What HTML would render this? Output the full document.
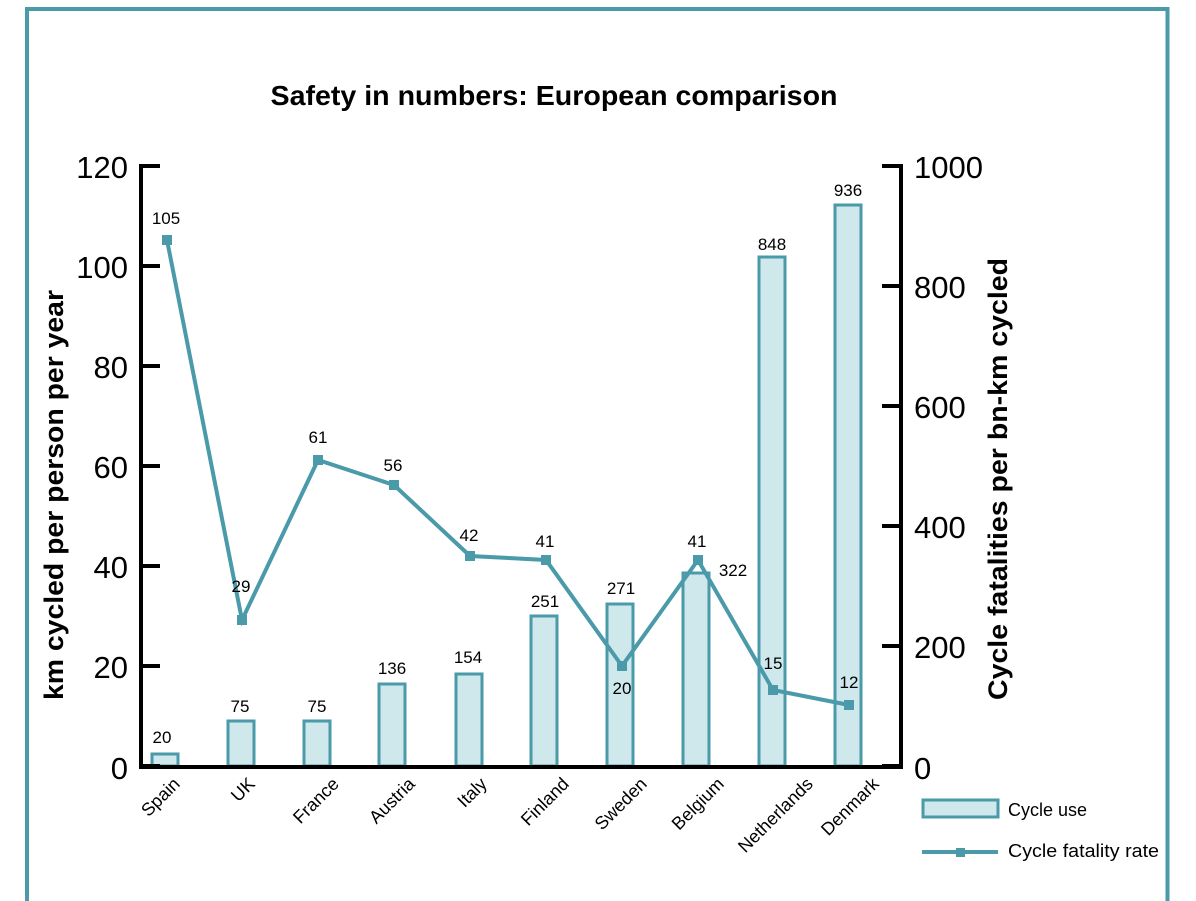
<!DOCTYPE html>
<html><head><meta charset="utf-8"><style>
html,body{margin:0;padding:0;background:#fff;}
svg{display:block;font-family:"Liberation Sans","DejaVu Sans",sans-serif;}
</style></head><body>
<svg width="1196" height="901" viewBox="0 0 1196 901" xmlns="http://www.w3.org/2000/svg">
<rect x="27" y="9" width="1140.5" height="900" fill="none" stroke="#4a9aaa" stroke-width="4"/>
<text x="554" y="105" text-anchor="middle" font-size="28" font-weight="bold" textLength="567" lengthAdjust="spacingAndGlyphs">Safety in numbers: European comparison</text>
<g fill="#cfe8ec" stroke="#4a9aaa" stroke-width="3">
<rect x="152" y="754" width="26" height="12"/>
<rect x="228" y="721" width="26" height="45"/>
<rect x="304" y="721" width="26" height="45"/>
<rect x="379" y="684" width="26" height="82"/>
<rect x="456" y="674" width="26" height="92"/>
<rect x="531" y="616" width="26" height="150"/>
<rect x="607" y="604" width="26" height="162"/>
<rect x="683" y="573" width="26" height="193"/>
<rect x="759" y="257" width="26" height="509"/>
<rect x="835" y="205" width="26" height="561"/>
</g>
<g stroke="#000" stroke-width="4" fill="none">
<path d="M160 166 H141 V767 H901 V166 H882"/>
<path d="M141 266h19M141 366h19M141 466h19M141 566h19M141 666h19M141 766h19"/>
<path d="M901 286h-19M901 406h-19M901 526h-19M901 646h-19M901 766h-19"/>
</g>
<g font-size="31" text-anchor="end">
<text x="128" y="178">120</text><text x="128" y="278">100</text><text x="128" y="378">80</text>
<text x="128" y="478">60</text><text x="128" y="578">40</text><text x="128" y="678">20</text><text x="128" y="779">0</text>
</g>
<g font-size="31">
<text x="914" y="178">1000</text><text x="914" y="298">800</text><text x="914" y="418">600</text>
<text x="914" y="538">400</text><text x="914" y="658">200</text><text x="914" y="779">0</text>
</g>
<text transform="translate(63,495) rotate(-90)" text-anchor="middle" font-size="27" font-weight="bold" textLength="410" lengthAdjust="spacingAndGlyphs">km cycled per person per year</text>
<text transform="translate(1007,479) rotate(-90)" text-anchor="middle" font-size="27" font-weight="bold" textLength="442" lengthAdjust="spacingAndGlyphs">Cycle fatalities per bn-km cycled</text>
<polyline points="167,240 242,620 318,460 394,485 470,556 546,560 622,666 698,560 773,690 849,705" fill="none" stroke="#4a9aaa" stroke-width="4"/>
<g fill="#4a9aaa">
<rect x="162" y="235" width="10" height="10"/><rect x="237" y="615" width="10" height="10"/><rect x="313" y="455" width="10" height="10"/>
<rect x="389" y="480" width="10" height="10"/><rect x="465" y="551" width="10" height="10"/><rect x="541" y="555" width="10" height="10"/>
<rect x="617" y="661" width="10" height="10"/><rect x="693" y="555" width="10" height="10"/><rect x="768" y="685" width="10" height="10"/>
<rect x="844" y="700" width="10" height="10"/>
</g>
<g font-size="17" text-anchor="middle">
<text x="162" y="743">20</text><text x="240" y="712">75</text><text x="317" y="712">75</text>
<text x="392" y="674">136</text><text x="468" y="663">154</text><text x="545" y="607">251</text>
<text x="621" y="594">271</text><text x="733" y="576">322</text><text x="772" y="250">848</text><text x="848" y="196">936</text>
<text x="166" y="224">105</text><text x="241" y="592">29</text><text x="318" y="443">61</text><text x="393" y="471">56</text>
<text x="469" y="541">42</text><text x="545" y="547">41</text><text x="697" y="547">41</text><text x="622" y="694">20</text>
<text x="773" y="669">15</text><text x="849" y="688">12</text>
</g>
<g font-size="18" text-anchor="end">
<text transform="translate(181,785) rotate(-45)">Spain</text>
<text transform="translate(256,785) rotate(-45)">UK</text>
<text transform="translate(340,785) rotate(-45)">France</text>
<text transform="translate(416,785) rotate(-45)">Austria</text>
<text transform="translate(488,785) rotate(-45)">Italy</text>
<text transform="translate(570,785) rotate(-45)">Finland</text>
<text transform="translate(648,785) rotate(-45)">Sweden</text>
<text transform="translate(725,785) rotate(-45)">Belgium</text>
<text transform="translate(814,785) rotate(-45)">Netherlands</text>
<text transform="translate(880,785) rotate(-45)">Denmark</text>
</g>
<rect x="923" y="800" width="75" height="17" fill="#cfe8ec" stroke="#4a9aaa" stroke-width="3"/>
<text x="1008" y="816" font-size="18">Cycle use</text>
<line x1="922" y1="852" x2="998" y2="852" stroke="#4a9aaa" stroke-width="4"/>
<rect x="956" y="848" width="9" height="9" fill="#4a9aaa"/>
<text x="1008" y="857" font-size="18" textLength="151" lengthAdjust="spacingAndGlyphs">Cycle fatality rate</text>
</svg>
</body></html>
